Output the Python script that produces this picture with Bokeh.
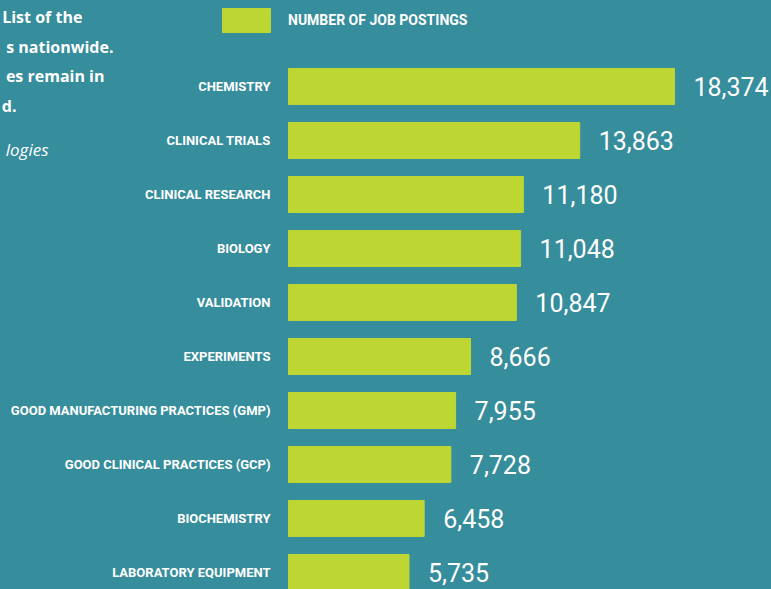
from bokeh.plotting import figure
from bokeh.models import Range1d, ColumnDataSource, Legend, LegendItem
from bokeh.core.properties import value
from bokeh.embed import file_html
from bokeh.resources import INLINE

categories = ["CHEMISTRY", "CLINICAL TRIALS", "CLINICAL RESEARCH", "BIOLOGY", "VALIDATION",
              "EXPERIMENTS", "GOOD MANUFACTURING PRACTICES (GMP)", "GOOD CLINICAL PRACTICES (GCP)",
              "BIOCHEMISTRY", "LABORATORY EQUIPMENT"]
postings = [18374, 13863, 11180, 11048, 10847, 8666, 7955, 7728, 6458, 5735]
series_name = "NUMBER OF JOB POSTINGS"
intro_lines = ["List of  the", "s nationwide.", "es remain in", "d."]
source_line = "logies"

BG = "#368d9b"
BAR = "#bdd631"
W, H = 771, 589

x0_px = 288.0
k = 386.0 / 18374.0
row_px, first_px = 54.0, 86.0

def px2x(px):
    return (px - x0_px) / k

def px2y(py):
    return (py - first_px) / row_px

p = figure(width=W, height=H, output_backend="svg", toolbar_location=None,
           x_range=Range1d(px2x(0), px2x(W)), y_range=Range1d(px2y(H), px2y(0)),
           min_border=0, min_border_left=0, min_border_right=0, min_border_top=0, min_border_bottom=0)
p.axis.visible = False
p.grid.visible = False
p.outline_line_color = None
p.background_fill_color = BG
p.border_fill_color = BG

src = ColumnDataSource(dict(
    y=list(range(len(categories))),
    cat=categories,
    val=postings,
    lbl=[f"{v:,}" for v in postings],
))

bars = p.hbar(y="y", left=0, right="val", height=36 / row_px, color=BAR, source=src)

p.text(x=0, y="y", text="cat", source=src, x_offset=-18, text_align="right",
       text_baseline="middle", text_color="white", text_font=value("Roboto"),
       text_font_style="bold", text_font_size="13px")

p.text(x="val", y="y", text="lbl", source=src, x_offset=19, text_align="left",
       text_baseline="middle", text_color="white", text_font=value("Roboto"),
       text_font_size="25px")

legend = Legend(items=[LegendItem(label=series_name, renderers=[bars])],
                location=(216, H - 35), glyph_width=60, glyph_height=30,
                label_standoff=12, padding=0, margin=0, spacing=0,
                border_line_alpha=0, background_fill_alpha=0,
                label_text_color="white", label_text_font="Roboto",
                label_text_font_style="bold", label_text_font_size="14px",
                label_height=30)
p.add_layout(legend, "center")

ends = [86, 113, 104, 16]
mids = [16, 46, 75, 105]
for t, e, m in zip(intro_lines, ends, mids):
    p.text(x=[px2x(e)], y=[px2y(m)], text=[t], text_align="right", text_baseline="middle",
           text_color="white", text_font=value("Open Sans"), text_font_style="bold",
           text_font_size="16px")
p.text(x=[px2x(48)], y=[px2y(149)], text=[source_line], text_align="right",
       text_baseline="middle", text_color="white", text_font=value("Open Sans"),
       text_font_style="italic", text_font_size="17px")

html = file_html(p, INLINE)
html = html.replace("<head>", "<head><style>html,body{margin:0;padding:0;background:%s;overflow:hidden}</style>" % BG, 1)
open("out.html", "w").write(html)
